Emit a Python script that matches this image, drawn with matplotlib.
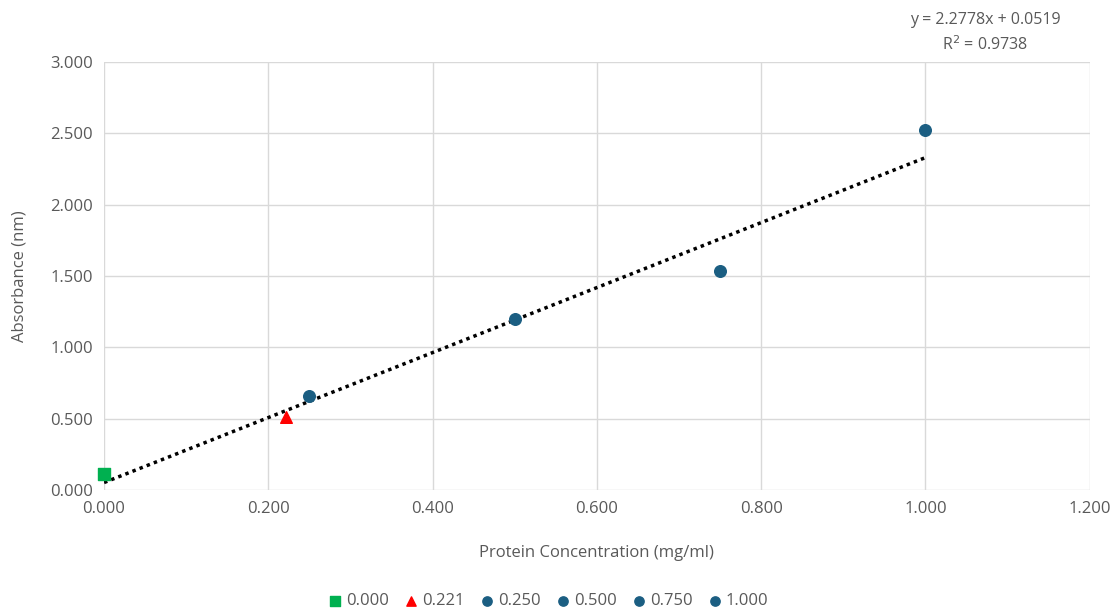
import numpy as np
import matplotlib.pyplot as plt

plt.rcParams['font.family'] = ['Open Sans', 'DejaVu Sans']

# standard points (concentration, absorbance)
labels = ['0.000', '0.221', '0.250', '0.500', '0.750', '1.000']
conc = [0.0, 0.221, 0.25, 0.5, 0.75, 1.0]
absorb = [0.115, 0.51, 0.66, 1.20, 1.535, 2.52]
markers = ['s', '^', 'o', 'o', 'o', 'o']
colors = ['#00b050', '#ff0000', '#1b5e82', '#1b5e82', '#1b5e82', '#1b5e82']

# trendline from the fit
slope = 2.2778
intercept = 0.0519
r2 = 0.9738
fit_x = [0.0, 1.0]

grey = '#595959'

fig = plt.figure(figsize=(11.2, 6.15), dpi=100)
ax = fig.add_axes([0.0929, 0.2033, 0.880, 0.6959])

for lab, x, y, m, c in zip(labels, conc, absorb, markers, colors):
    ax.scatter(x, y, marker=m, s=70, color=c, label=lab, zorder=3, clip_on=False)

fx = np.array(fit_x)
ax.plot(fx, slope * fx + intercept, color='black', linestyle=(0, (1, 1.2)),
        linewidth=2.5, zorder=2)

ax.set_xlim(0, 1.2)
ax.set_ylim(0, 3.0)
ax.set_xticks(np.arange(0, 1.21, 0.2))
ax.set_yticks(np.arange(0, 3.01, 0.5))
ax.xaxis.set_major_formatter(plt.FuncFormatter(lambda v, p: f'{v:.3f}'))
ax.yaxis.set_major_formatter(plt.FuncFormatter(lambda v, p: f'{v:.3f}'))
ax.grid(True, color='#d9d9d9', linewidth=1)
ax.set_axisbelow(True)
for s in ax.spines.values():
    s.set_visible(False)
ax.tick_params(length=0, labelsize=12, colors=grey, pad=8)

ax.set_xlabel('Protein Concentration (mg/ml)', fontsize=12, color=grey, labelpad=20)
ax.set_ylabel('Absorbance (nm)', fontsize=12, color=grey, labelpad=16)

fig.text(0.88, 0.967, f'y = {slope}x + {intercept}', ha='center', va='center',
         fontsize=11.5, color=grey)
fig.text(0.88, 0.928, f'R$^2$ = {r2}', ha='center', va='center',
         fontsize=11.5, color=grey)

fig.legend(loc='center', bbox_to_anchor=(0.49, 0.022), ncol=6, frameon=False,
           fontsize=12, labelcolor=grey, handlelength=0.7, handletextpad=0.3,
           columnspacing=1.0, markerscale=0.8)

fig.savefig('out.png', dpi=100)
